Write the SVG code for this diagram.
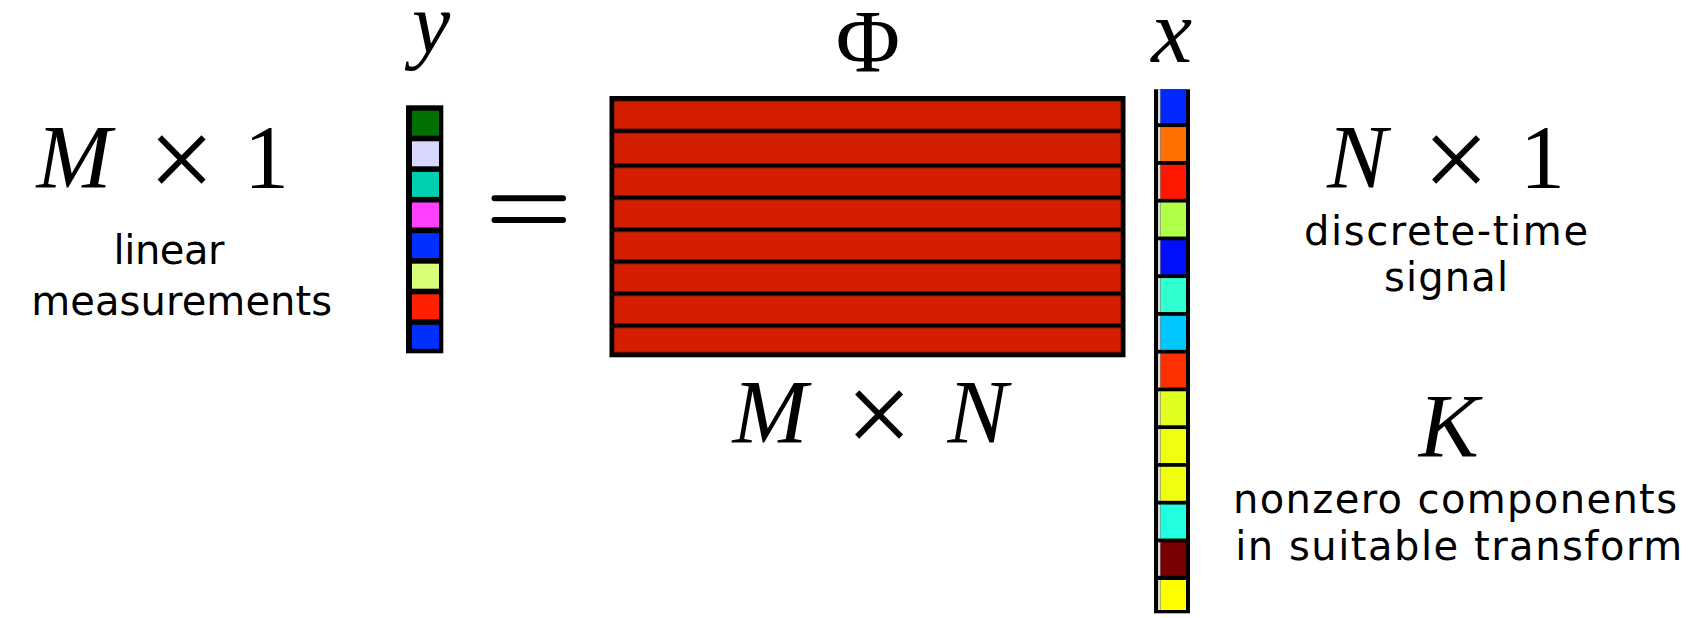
<svg xmlns="http://www.w3.org/2000/svg" width="1702" height="618" viewBox="0 0 1702 618">
<style>
.math{font-family:"Liberation Serif","DejaVu Serif",serif;font-size:90px;fill:#000;text-anchor:middle}
.it{font-style:italic}
.times{font-size:118px}
.lbl{font-family:"DejaVu Sans","Verdana",sans-serif;font-size:40px;fill:#000;text-anchor:middle}
.row{fill:#d41e00;stroke:#9a1400;stroke-width:1}
.gs{fill:#d8d8d8}
</style>
<rect width="1702" height="618" fill="#fff"/>

<g id="label-left">
<text class="math it" x="74" y="188">M</text>
<text class="math times" x="181.5" y="199">×</text>
<text class="math" x="266.5" y="188">1</text>
<text class="lbl" x="169" y="264" textLength="111">linear</text>
<text class="lbl" x="181.7" y="315" textLength="301">measurements</text>
</g>

<g id="vector-y">
<text class="math it" x="431" y="52" style="font-size:86px">y</text>
<rect x="406" y="105.3" width="37.3" height="248" fill="#000"/>
<rect x="412" y="110.7" width="27" height="25" fill="#007000"/>
<rect x="412" y="141.3" width="27" height="25" fill="#d8d8ff"/>
<rect x="412" y="171.9" width="27" height="25" fill="#00d0b0"/>
<rect x="412" y="202.5" width="27" height="25" fill="#ff40ff"/>
<rect x="412" y="233.1" width="27" height="25" fill="#0030ff"/>
<rect x="412" y="263.7" width="27" height="25" fill="#d8ff78"/>
<rect x="412" y="294.3" width="27" height="25" fill="#ff2000"/>
<rect x="412" y="324.9" width="27" height="24" fill="#0030ff"/>
</g>

<g id="equals">
<line x1="494.5" y1="198.3" x2="563" y2="198.3" stroke="#000" stroke-width="6" stroke-linecap="round"/>
<line x1="494.5" y1="220" x2="563" y2="220" stroke="#000" stroke-width="6" stroke-linecap="round"/>
</g>

<g id="matrix-phi">
<text class="math" x="868" y="70.7" style="font-size:88px">Φ</text>
<rect x="609.5" y="96" width="516" height="261.3" fill="#000"/>
<rect class="row" x="614.5" y="101.3" width="506" height="27.4"/>
<rect class="row" x="614.5" y="133.3" width="506" height="30"/>
<rect class="row" x="614.5" y="168" width="506" height="27.3"/>
<rect class="row" x="614.5" y="200" width="506" height="27.3"/>
<rect class="row" x="614.5" y="232" width="506" height="27.3"/>
<rect class="row" x="614.5" y="264" width="506" height="27.3"/>
<rect class="row" x="614.5" y="296" width="506" height="27.3"/>
<rect class="row" x="614.5" y="328" width="506" height="24"/>
<text class="math it" x="770" y="443.3">M</text>
<text class="math times" x="879" y="454">×</text>
<text class="math it" x="977.5" y="443.3">N</text>
</g>

<g id="vector-x">
<text class="math it" x="1171.7" y="61.7" style="font-size:92px">x</text>
<rect x="1154" y="89.3" width="36" height="524" fill="#000"/>
<g>
<rect class="gs" x="1158" y="89.3" width="2.6" height="34"/><rect x="1160.6" y="89.3" width="25.4" height="34" fill="#0028ff"/>
<rect class="gs" x="1158" y="127.05" width="2.6" height="34"/><rect x="1160.6" y="127.05" width="25.4" height="34" fill="#ff7000"/>
<rect class="gs" x="1158" y="164.8" width="2.6" height="34"/><rect x="1160.6" y="164.8" width="25.4" height="34" fill="#ff1800"/>
<rect class="gs" x="1158" y="202.55" width="2.6" height="34"/><rect x="1160.6" y="202.55" width="25.4" height="34" fill="#b0ff48"/>
<rect class="gs" x="1158" y="240.3" width="2.6" height="34"/><rect x="1160.6" y="240.3" width="25.4" height="34" fill="#0010ff"/>
<rect class="gs" x="1158" y="278.05" width="2.6" height="34"/><rect x="1160.6" y="278.05" width="25.4" height="34" fill="#30ffd0"/>
<rect class="gs" x="1158" y="315.8" width="2.6" height="34"/><rect x="1160.6" y="315.8" width="25.4" height="34" fill="#00c8ff"/>
<rect class="gs" x="1158" y="353.55" width="2.6" height="34"/><rect x="1160.6" y="353.55" width="25.4" height="34" fill="#ff3000"/>
<rect class="gs" x="1158" y="391.3" width="2.6" height="34"/><rect x="1160.6" y="391.3" width="25.4" height="34" fill="#e0ff20"/>
<rect class="gs" x="1158" y="429.05" width="2.6" height="34"/><rect x="1160.6" y="429.05" width="25.4" height="34" fill="#f0ff10"/>
<rect class="gs" x="1158" y="466.8" width="2.6" height="34"/><rect x="1160.6" y="466.8" width="25.4" height="34" fill="#f0ff10"/>
<rect class="gs" x="1158" y="504.55" width="2.6" height="34"/><rect x="1160.6" y="504.55" width="25.4" height="34" fill="#20ffe0"/>
<rect class="gs" x="1158" y="542.3" width="2.6" height="33.5"/><rect x="1160.6" y="542.3" width="25.4" height="33.5" fill="#780000"/>
<rect class="gs" x="1158" y="580" width="2.6" height="30"/><rect x="1160.6" y="580" width="25.4" height="30" fill="#ffff00"/>
</g>
</g>

<g id="label-right">
<text class="math it" x="1357" y="188.3">N</text>
<text class="math times" x="1456" y="199">×</text>
<text class="math" x="1542.5" y="188.3">1</text>
<text class="lbl" x="1446" y="245" textLength="284">discrete-time</text>
<text class="lbl" x="1446" y="291" textLength="124">signal</text>
</g>

<g id="label-k">
<text class="math it" x="1448.7" y="457.3">K</text>
<text class="lbl" x="1455" y="513" textLength="444">nonzero components</text>
<text class="lbl" x="1458.7" y="560" textLength="447">in suitable transform</text>
</g>

<g id="connectors"/>
</svg>
